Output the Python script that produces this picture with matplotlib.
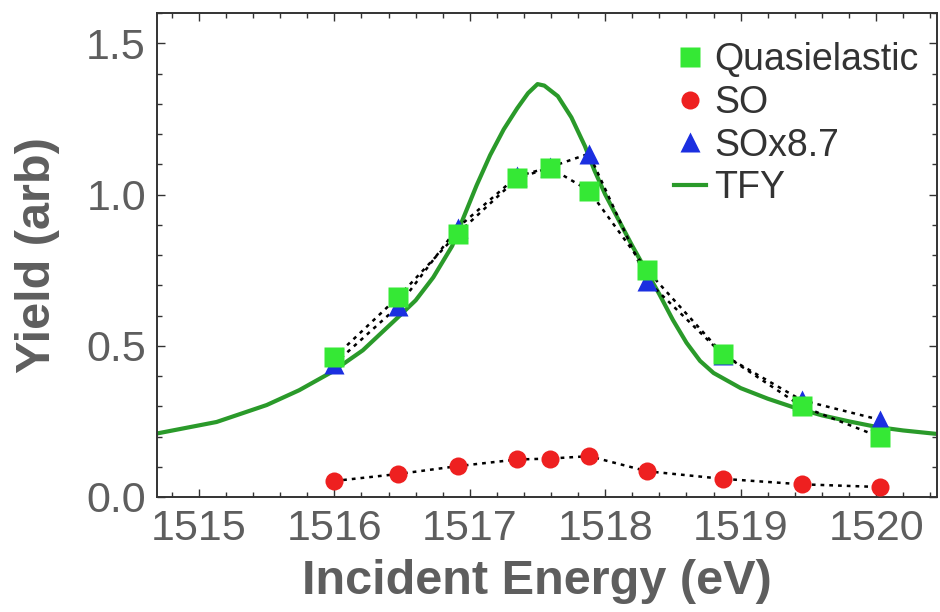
import matplotlib
matplotlib.use("Agg")
import matplotlib.pyplot as plt
from matplotlib.lines import Line2D
from matplotlib.ticker import MultipleLocator

plt.rcParams['font.family'] = ['Liberation Sans', 'DejaVu Sans']

# Incident energies of the measured spectra (eV)
energy = [1516.0, 1516.47, 1516.91, 1517.35, 1517.59, 1517.88, 1518.31, 1518.87, 1519.45, 1520.03]

# Integrated yields
quasielastic = [0.462, 0.661, 0.871, 1.053, 1.089, 1.013, 0.749, 0.472, 0.300, 0.198]
so = [0.053, 0.076, 0.102, 0.124, 0.127, 0.135, 0.085, 0.060, 0.042, 0.033]
so_scaled = [0.440, 0.630, 0.890, 1.060, 1.090, 1.135, 0.715, 0.470, 0.320, 0.255]

# Total fluorescence yield scan
tfy_energy = [1514.69, 1515.13, 1515.50, 1515.74, 1515.98, 1516.21, 1516.46, 1516.60,
              1516.73, 1516.87, 1516.95, 1517.05, 1517.15, 1517.25, 1517.35, 1517.43,
              1517.50, 1517.55, 1517.65, 1517.75, 1517.85, 1517.92, 1518.00, 1518.10,
              1518.20, 1518.30, 1518.40, 1518.50, 1518.60, 1518.70, 1518.80, 1519.00,
              1519.20, 1519.40, 1519.60, 1519.80, 1520.00, 1520.20, 1520.46]
tfy = [0.210, 0.248, 0.304, 0.353, 0.413, 0.485, 0.590, 0.650,
       0.726, 0.830, 0.920, 1.030, 1.130, 1.215, 1.285, 1.335,
       1.365, 1.360, 1.325, 1.255, 1.160, 1.080, 1.000, 0.915,
       0.830, 0.750, 0.670, 0.585, 0.510, 0.450, 0.410, 0.360,
       0.325, 0.295, 0.270, 0.250, 0.232, 0.220, 0.208]

x_ticks = [1515, 1516, 1517, 1518, 1519, 1520]
y_ticks = [0.0, 0.5, 1.0, 1.5]

GREEN_MARK = '#35e835'
RED = '#ee2020'
BLUE = '#1b2fe0'
GREEN_LINE = '#2a9a2a'
TEXT_GRAY = '#5e5e5e'
dotted = (0, (1.5, 2.0))

fig = plt.figure(figsize=(9.4, 6.12), dpi=100)
ax = fig.add_axes([157 / 940, (612 - 497) / 612, (937 - 157) / 940, (497 - 13) / 612])

ax.plot(tfy_energy, tfy, color=GREEN_LINE, lw=3.0, zorder=2)

ax.plot(energy, so, color='black', ls=dotted, lw=1.8, zorder=3)
ax.plot(energy, so_scaled, color='black', ls=dotted, lw=1.8, zorder=3)
ax.plot(energy, quasielastic, color='black', ls=dotted, lw=1.8, zorder=3)

ax.plot(energy, so, ls='none', marker='o', ms=13, color=RED, mec='none', zorder=4)
ax.plot(energy, so_scaled, ls='none', marker='^', ms=14, color=BLUE, mec='none', zorder=4)
ax.plot(energy, quasielastic, ls='none', marker='s', ms=15, color=GREEN_MARK, mec='none', zorder=5)

ax.set_xlim(1514.69, 1520.45)
ax.set_ylim(0.0, 1.6)
ax.set_xticks(x_ticks)
ax.set_yticks(y_ticks)
ax.set_yticklabels([f"{v:.1f}" for v in y_ticks])
ax.xaxis.set_minor_locator(MultipleLocator(0.2))
ax.yaxis.set_minor_locator(MultipleLocator(0.1))

ax.tick_params(which='both', direction='in', top=True, right=True,
               colors='#333333', labelcolor=TEXT_GRAY, width=1.0)
ax.tick_params(which='major', length=6, labelsize=31)
ax.tick_params(which='minor', length=3.5)
ax.tick_params(axis='x', which='major', pad=9)
ax.tick_params(axis='y', which='major', pad=8)
for sp in ax.spines.values():
    sp.set_color('#333333')
    sp.set_linewidth(1.4)

ax.set_xlabel('Incident Energy (eV)', fontsize=35, fontweight='bold', color=TEXT_GRAY)
ax.set_ylabel('Yield (arb)', fontsize=35, fontweight='bold', color=TEXT_GRAY)
ax.xaxis.set_label_coords(0.487, -0.128)
ax.yaxis.set_label_coords(-0.124, 0.50)

handles = [
    Line2D([], [], ls='none', marker='s', ms=14, color=GREEN_MARK, mec='none'),
    Line2D([], [], ls='none', marker='o', ms=13, color=RED, mec='none'),
    Line2D([], [], ls='none', marker='^', ms=14, color=BLUE, mec='none'),
    Line2D([], [], color=GREEN_LINE, lw=3.0),
]
labels = ['Quasielastic', 'SO', 'SOx8.7', 'TFY']
leg = ax.legend(handles, labels, loc='upper right', bbox_to_anchor=(0.995, 0.971),
                frameon=False, fontsize=27, handlelength=0.85, handletextpad=0.2,
                labelspacing=0.18, borderaxespad=0.0)
for t in leg.get_texts():
    t.set_color('#333333')

fig.savefig('out.png', dpi=100)
